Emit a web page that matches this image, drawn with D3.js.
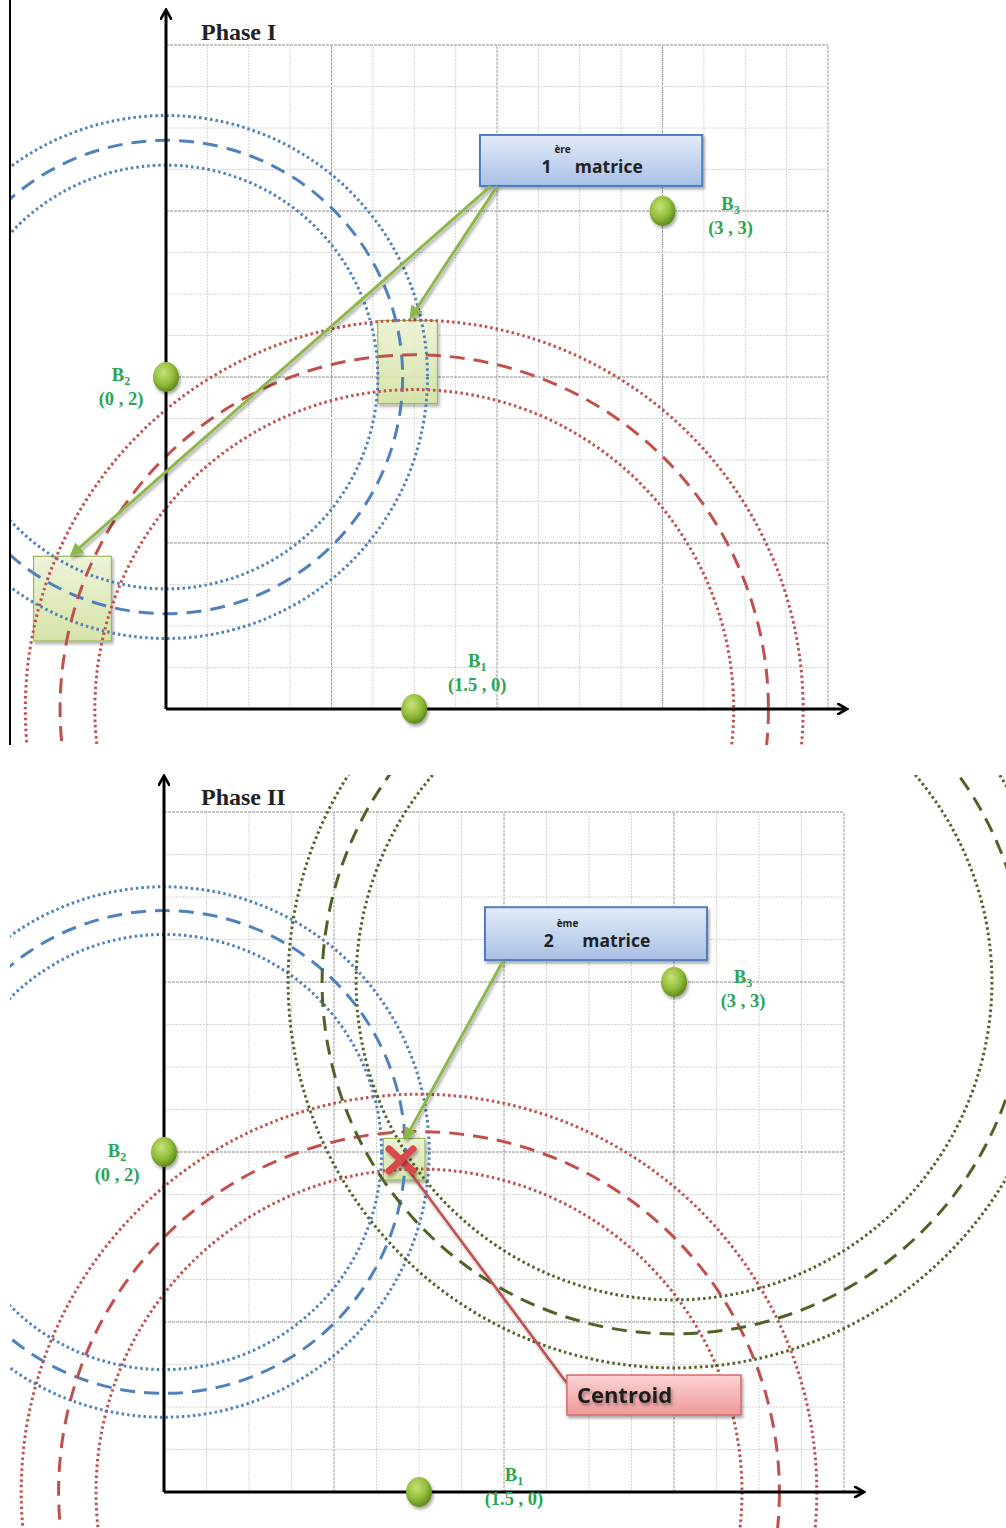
<!DOCTYPE html>
<html>
<head>
<meta charset="utf-8">
<script src="https://cdn.jsdelivr.net/npm/d3@7"></script>
<style>
  body { margin: 0; background: #fff; }
  svg { display: block; }
</style>
</head>
<body>
<script>
// beacons (anchor points), in grid units
const beacons = [
    { name: "B", sub: "1", coord: "(1.5 , 0)", x: 1.5, y: 0 },
    { name: "B", sub: "2", coord: "(0 , 2)", x: 0, y: 2 },
    { name: "B", sub: "3", coord: "(3 , 3)", x: 3, y: 3 }
];

// estimated distance rings: centre beacon index, radius, uncertainty band
const ringsPhase1 = [
    { beacon: 1, r: 1.43, band: 0.15, color: "#4f81bd" },
    { beacon: 0, r: 2.14, band: 0.21, color: "#c0504d" }
];
const ringsPhase2 = [
    { beacon: 1, r: 1.42, band: 0.14, color: "#4f81bd" },
    { beacon: 0, r: 2.12, band: 0.22, color: "#c0504d" },
    { beacon: 2, r: 2.07, band: 0.2, color: "#4f6228" }
];

// intersection zones [x0, x1, y0, y1]
const zonesPhase1 = [[1.28, 1.64, 1.84, 2.34], [-0.8, -0.33, 0.41, 0.92]];
const zonesPhase2 = [[1.29, 1.535, 1.835, 2.08]];
const centroid = { x: 1.394, y: 1.953 };

const gridTicks = d3.range(0, 4.001, 0.25);

const svg = d3.select("body").append("svg")
    .attr("width", 1006)
    .attr("height", 1528);

const defs = svg.append("defs");

const ball = defs.append("radialGradient").attr("id", "ball")
    .attr("cx", "40%").attr("cy", "35%").attr("r", "65%");
ball.append("stop").attr("offset", "0%").attr("stop-color", "#c8e27a");
ball.append("stop").attr("offset", "60%").attr("stop-color", "#92bd3a");
ball.append("stop").attr("offset", "100%").attr("stop-color", "#5f8a1c");

const blueBox = defs.append("linearGradient").attr("id", "blueBox")
    .attr("x1", 0).attr("y1", 0).attr("x2", 0).attr("y2", 1);
blueBox.append("stop").attr("offset", "0%").attr("stop-color", "#e3ebf7");
blueBox.append("stop").attr("offset", "100%").attr("stop-color", "#a8c0e6");

const pinkBox = defs.append("linearGradient").attr("id", "pinkBox")
    .attr("x1", 0).attr("y1", 0).attr("x2", 0).attr("y2", 1);
pinkBox.append("stop").attr("offset", "0%").attr("stop-color", "#fbd3d3");
pinkBox.append("stop").attr("offset", "100%").attr("stop-color", "#f09a9a");

const zoneFill = defs.append("linearGradient").attr("id", "zoneFill")
    .attr("x1", 0).attr("y1", 0).attr("x2", 0).attr("y2", 1);
zoneFill.append("stop").attr("offset", "0%").attr("stop-color", "#f1f6d8");
zoneFill.append("stop").attr("offset", "100%").attr("stop-color", "#d5e6a2");

const shadow = defs.append("filter").attr("id", "shadow")
    .attr("x", "-20%").attr("y", "-20%").attr("width", "150%").attr("height", "160%");
shadow.append("feDropShadow").attr("dx", 1.5).attr("dy", 2.5)
    .attr("stdDeviation", 1.5).attr("flood-color", "#000").attr("flood-opacity", 0.35);

defs.append("marker").attr("id", "head-green")
    .attr("viewBox", "0 0 10 10").attr("refX", 8).attr("refY", 5)
    .attr("markerWidth", 4.5).attr("markerHeight", 4.5)
    .attr("orient", "auto")
    .append("path").attr("d", "M0,0L10,5L0,10z")
    .attr("fill", "#8db84a");
defs.append("marker").attr("id", "axisHead")
    .attr("viewBox", "0 0 10 10").attr("refX", 7).attr("refY", 5)
    .attr("markerWidth", 4).attr("markerHeight", 4)
    .attr("orient", "auto")
    .append("path").attr("d", "M0,0L9,5L0,10").attr("fill", "none")
    .attr("stroke", "#000").attr("stroke-width", 2.2);

function drawPanel(cfg) {
    const g = svg.append("g");
    const x = d3.scaleLinear().domain([0, 4]).range(cfg.xRange);
    const y = d3.scaleLinear().domain([0, 4]).range(cfg.yRange);
    const px = v => x(v) - x(0);

    defs.append("clipPath").attr("id", cfg.id + "-clip")
        .append("rect")
        .attr("x", cfg.clip[0]).attr("y", cfg.clip[1])
        .attr("width", cfg.clip[2]).attr("height", cfg.clip[3]);

    // grid
    const grid = g.append("g");
    grid.selectAll(".gv").data(gridTicks).enter().append("line")
        .attr("x1", d => x(d)).attr("x2", d => x(d))
        .attr("y1", y(0)).attr("y2", y(4))
        .attr("stroke", d => d % 1 === 0 ? "#9a9a9a" : "#d4d4d4")
        .attr("stroke-width", 1)
        .attr("stroke-dasharray", d => d % 1 === 0 ? "3,1" : "2,1");
    grid.selectAll(".gh").data(gridTicks).enter().append("line")
        .attr("y1", d => y(d)).attr("y2", d => y(d))
        .attr("x1", x(0)).attr("x2", x(4))
        .attr("stroke", d => d % 1 === 0 ? "#8a8a8a" : "#d4d4d4")
        .attr("stroke-width", 1)
        .attr("stroke-dasharray", d => d % 1 === 0 ? "3,1" : "2,1");

    // title
    g.append("text")
        .attr("x", cfg.titleX).attr("y", cfg.titleY)
        .attr("font-family", "Liberation Serif, serif")
        .attr("font-weight", "bold")
        .attr("font-size", 24)
        .attr("fill", "#222")
        .text(cfg.title);

    const marks = g.append("g").attr("clip-path", `url(#${cfg.id}-clip)`);

    // zones
    marks.selectAll(".zone").data(cfg.zones).enter().append("rect")
        .attr("x", d => x(d[0])).attr("y", d => y(d[3]))
        .attr("width", d => x(d[1]) - x(d[0]))
        .attr("height", d => y(d[2]) - y(d[3]))
        .attr("fill", "url(#zoneFill)")
        .attr("fill-opacity", 0.85)
        .attr("stroke", "#9bbb59")
        .attr("stroke-width", 1.2)
        .attr("filter", "url(#shadow)");

    // rings
    cfg.rings.forEach(rg => {
        const b = beacons[rg.beacon];
        const rows = [
            { r: rg.r, dash: "15,9" },
            { r: rg.r - rg.band, dash: "2.5,3" },
            { r: rg.r + rg.band, dash: "2.5,3" }
        ];
        marks.selectAll(null).data(rows).enter().append("circle")
            .attr("cx", x(b.x)).attr("cy", y(b.y))
            .attr("r", d => px(d.r))
            .attr("fill", "none")
            .attr("stroke", rg.color)
            .attr("stroke-width", 3)
            .attr("stroke-dasharray", d => d.dash);
    });

    // axes
    g.append("line")
        .attr("x1", x(0)).attr("y1", y(0))
        .attr("x2", x(0)).attr("y2", cfg.axisTop)
        .attr("stroke", "#000").attr("stroke-width", 3)
        .attr("marker-end", "url(#axisHead)");
    g.append("line")
        .attr("x1", x(0)).attr("y1", y(0))
        .attr("x2", cfg.axisRight).attr("y2", y(0))
        .attr("stroke", "#000").attr("stroke-width", 3)
        .attr("marker-end", "url(#axisHead)");

    // annotation box
    const bx = cfg.box;
    const boxG = g.append("g");
    boxG.append("rect")
        .attr("x", x(bx.x0)).attr("y", y(bx.y1))
        .attr("width", x(bx.x1) - x(bx.x0))
        .attr("height", y(bx.y0) - y(bx.y1))
        .attr("fill", "url(#blueBox)")
        .attr("stroke", "#4f7dbd").attr("stroke-width", 2)
        .attr("filter", "url(#shadow)");
    const bt = boxG.append("text")
        .attr("x", (x(bx.x0) + x(bx.x1)) / 2 + 1)
        .attr("y", y(bx.y0) - 13)
        .attr("text-anchor", "middle")
        .attr("font-family", "Open Sans, Liberation Sans, sans-serif")
        .attr("font-weight", "bold")
        .attr("font-size", 17.5)
        .attr("fill", "#222");
    bt.append("tspan").text(bx.num);
    bt.append("tspan").attr("font-size", 10).attr("dy", -20).attr("dx", 3).text(bx.sup);
    bt.append("tspan").attr("dy", 20).attr("dx", 4).text("matrice");

    // arrows from the box
    g.selectAll(".arrow").data(cfg.arrows).enter().append("line")
        .attr("x1", d => x(d[0])).attr("y1", d => y(d[1]))
        .attr("x2", d => x(d[2])).attr("y2", d => y(d[3]))
        .attr("stroke", "#8db84a").attr("stroke-width", 3)
        .attr("marker-end", "url(#head-green)")
        .attr("filter", "url(#shadow)");

    // beacons
    const bg = g.selectAll(".beacon").data(beacons).enter().append("g");
    bg.append("ellipse")
        .attr("cx", d => x(d.x)).attr("cy", d => y(d.y))
        .attr("rx", 13).attr("ry", 15)
        .attr("fill", "url(#ball)")
        .attr("filter", "url(#shadow)");
    const lab = bg.append("text")
        .attr("x", (d, i) => x(d.x) + cfg.labelOffsets[i][0])
        .attr("y", (d, i) => y(d.y) + cfg.labelOffsets[i][1])
        .attr("text-anchor", "middle")
        .attr("font-family", "Liberation Serif, serif")
        .attr("font-weight", "bold")
        .attr("font-size", 18.5)
        .attr("fill", "#2aa552");
    lab.append("tspan").text(d => d.name);
    lab.append("tspan").attr("font-size", 12).attr("dy", 4).text(d => d.sub);
    bg.append("text")
        .attr("x", (d, i) => x(d.x) + cfg.labelOffsets[i][0])
        .attr("y", (d, i) => y(d.y) + cfg.labelOffsets[i][1] + 24)
        .attr("text-anchor", "middle")
        .attr("font-family", "Liberation Serif, serif")
        .attr("font-weight", "bold")
        .attr("font-size", 18.5)
        .attr("fill", "#2aa552")
        .text(d => d.coord);

    return { g, x, y };
}

// left border of the first picture
svg.append("line").attr("x1", 10).attr("x2", 10).attr("y1", 0).attr("y2", 745)
    .attr("stroke", "#000").attr("stroke-width", 2);

drawPanel({
    id: "p1",
    xRange: [166, 828],
    yRange: [709, 45],
    clip: [11, 0, 995, 745],
    title: "Phase I", titleX: 201, titleY: 40,
    axisTop: 12, axisRight: 845,
    rings: ringsPhase1,
    zones: zonesPhase1,
    box: { x0: 1.897, x1: 3.24, y0: 3.151, y1: 3.458, num: "1", sup: "ère" },
    arrows: [[2.0, 3.148, 1.48, 2.36], [1.96, 3.148, -0.57, 0.93]],
    labelOffsets: [[63, -42], [-45, 4], [68, -1]]
});

const p2 = drawPanel({
    id: "p2",
    xRange: [164, 844],
    yRange: [1492, 812],
    clip: [10, 775, 996, 753],
    title: "Phase II", titleX: 201, titleY: 805,
    axisTop: 778, axisRight: 862,
    rings: ringsPhase2,
    zones: zonesPhase2,
    box: { x0: 1.888, x1: 3.194, y0: 3.129, y1: 3.44, num: "2", sup: "ème" },
    arrows: [[1.994, 3.124, 1.42, 2.08]],
    labelOffsets: [[95, -11], [-47, 5], [69, 1]]
});

// centroid marker and label
const cg = p2.g.append("g");
const cx = p2.x(centroid.x), cy = p2.y(centroid.y);
const cb = { x0: 2.37, x1: 3.394, y0: 0.453, y1: 0.688 };
cg.append("line")
    .attr("x1", cx).attr("y1", cy)
    .attr("x2", p2.x(cb.x0)).attr("y2", p2.y(0.64))
    .attr("stroke", "#c0504d").attr("stroke-width", 2.5)
    .attr("filter", "url(#shadow)");
cg.append("rect")
    .attr("x", p2.x(cb.x0)).attr("y", p2.y(cb.y1))
    .attr("width", p2.x(cb.x1) - p2.x(cb.x0))
    .attr("height", p2.y(cb.y0) - p2.y(cb.y1))
    .attr("fill", "url(#pinkBox)")
    .attr("stroke", "#d9696c").attr("stroke-width", 1.5)
    .attr("filter", "url(#shadow)");
cg.append("text")
    .attr("x", p2.x(cb.x0) + 10)
    .attr("y", (p2.y(cb.y0) + p2.y(cb.y1)) / 2 + 8)
    .attr("font-family", "Open Sans, Liberation Sans, sans-serif")
    .attr("font-weight", "bold")
    .attr("font-size", 22)
    .attr("fill", "#1e1e1e")
    .attr("filter", "url(#shadow)")
    .text("Centroid");
cg.selectAll(".cross").data([[-1, -1, 1, 1], [-1, 1, 1, -1]]).enter().append("line")
    .attr("x1", d => cx + d[0] * 12).attr("y1", d => cy + d[1] * 11)
    .attr("x2", d => cx + d[2] * 12).attr("y2", d => cy + d[3] * 11)
    .attr("stroke", "#d9484c").attr("stroke-width", 7)
    .attr("stroke-linecap", "round")
    .attr("filter", "url(#shadow)");
</script>
</body>
</html>
